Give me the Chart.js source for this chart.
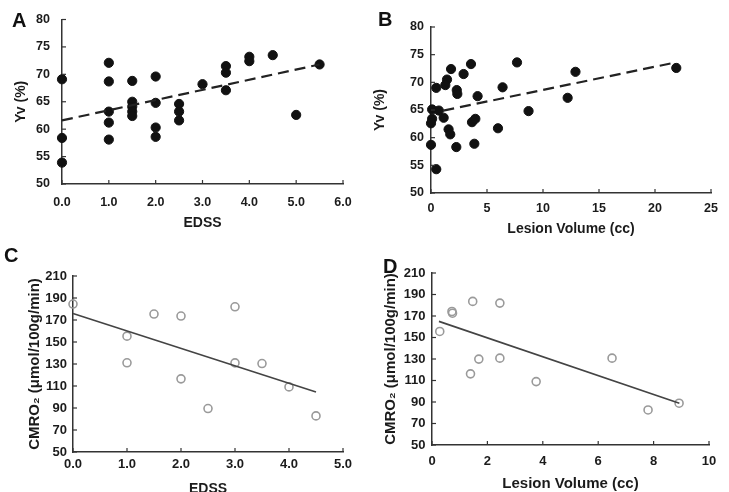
<!DOCTYPE html>
<html>
<head>
<meta charset="utf-8">
<script src="https://cdn.jsdelivr.net/npm/chart.js@4.4.1/dist/chart.umd.min.js"></script>
<style>
  html, body { margin: 0; padding: 0; background: #fff; }
  #wrap { position: relative; width: 729px; height: 492px; overflow: hidden; }
  #wrap canvas { position: absolute; }
  .tag { position: absolute; font: bold 20px "Liberation Sans", Arial, sans-serif; line-height: 1; color: #111; }
</style>
</head>
<body>
<div id="wrap">
  <canvas id="chartA" width="364" height="246" style="left:0;top:0"></canvas>
  <canvas id="chartB" width="365" height="246" style="left:364px;top:0"></canvas>
  <canvas id="chartC" width="364" height="256" style="left:0;top:246px"></canvas>
  <canvas id="chartD" width="365" height="256" style="left:364px;top:246px"></canvas>
  <div class="tag" style="left:12px;top:10px">A</div>
  <div class="tag" style="left:378px;top:9px">B</div>
  <div class="tag" style="left:4px;top:245px">C</div>
  <div class="tag" style="left:383px;top:256px">D</div>
</div>
<script>
/* ==============================
   Data
============================== */
// A: Yv vs EDSS
const edssA = [0, 0, 0, 1, 1, 1, 1, 1, 1.5, 1.5, 1.5, 1.5, 1.5, 2, 2, 2, 2, 2.5, 2.5, 2.5, 3, 3.5, 3.5, 3.5, 4, 4, 4.5, 5, 5.5];
const yvA   = [69.1, 58.4, 53.9, 72.1, 68.7, 63.2, 61.2, 58.1, 68.8, 65.0, 64.1, 63.2, 62.4, 69.6, 64.8, 60.3, 58.6, 64.6, 63.2, 61.6, 68.2, 71.5, 70.3, 67.1, 73.2, 72.4, 73.5, 62.6, 71.8];
const fitA  = [{ x: 0, y: 61.6 }, { x: 5.5, y: 71.8 }];

// B: Yv vs lesion volume
const lesionB = [1.79, 3.57, 2.91, 7.68, 1.43, 1.28, 0.47, 2.3, 2.35, 4.16, 6.39, 8.71, 0.1, 0.7, 0.1, 0, 1.13, 1.57, 1.72, 3.66, 3.96, 5.98, 0, 2.26, 3.87, 0.47, 12.2, 12.9, 21.9];
const yvB     = [72.4, 73.3, 71.5, 73.6, 70.5, 69.5, 69.0, 68.6, 67.9, 67.5, 69.1, 64.8, 65.1, 64.9, 63.4, 62.6, 63.6, 61.5, 60.6, 62.8, 63.4, 61.7, 58.7, 58.3, 58.9, 54.3, 67.2, 71.9, 72.6];
const fitB    = [{ x: 1.1, y: 64.9 }, { x: 21.6, y: 73.5 }];

// C: CMRO2 vs EDSS
const edssC = [0, 1, 1, 1.5, 2, 2, 2.5, 3, 3, 3.5, 4, 4.5];
const cmroC = [184.5, 155.3, 131.1, 175.4, 173.6, 116.5, 89.5, 182, 131, 130.4, 109.2, 82.8];
const fitC  = [{ x: 0, y: 176 }, { x: 4.5, y: 104.6 }];

// D: CMRO2 vs lesion volume
const lesionD = [0.28, 0.72, 0.74, 1.47, 2.45, 1.69, 1.39, 2.45, 3.76, 6.5, 7.8, 8.92];
const cmroD   = [155.6, 174.2, 172.6, 183.6, 182, 129.9, 116.2, 130.8, 109, 130.8, 82.6, 88.9];
const fitD    = [{ x: 0.25, y: 165 }, { x: 8.93, y: 88.9 }];

/* ==============================
   Helpers
============================== */
const FONT = '"Liberation Sans", Arial, Helvetica, sans-serif';
const INK = '#1b1b1b';
const AXIS = '#333';

function pts(xs, ys) {
    return xs.map((x, i) => ({ x, y: ys[i] }));
}

// little tick marks pointing into the plot, like the original
const innerTicks = {
    id: 'innerTicks',
    afterDraw(chart) {
        const { ctx, chartArea } = chart;
        ctx.save();
        ctx.strokeStyle = AXIS;
        ctx.lineWidth = 1.2;
        ['x', 'y'].forEach(id => {
            const s = chart.scales[id];
            s.ticks.forEach(t => {
                const p = s.getPixelForValue(t.value);
                ctx.beginPath();
                if (id === 'x') { ctx.moveTo(p, chartArea.bottom); ctx.lineTo(p, chartArea.bottom - 4); }
                else { ctx.moveTo(chartArea.left, p); ctx.lineTo(chartArea.left + 4, p); }
                ctx.stroke();
            });
        });
        ctx.restore();
    }
};

function panel(id, o) {
    return new Chart(document.getElementById(id), {
        type: 'scatter',
        data: {
            datasets: [
                {
                    data: o.points,
                    pointRadius: o.filled ? 4.6 : 4,
                    pointBackgroundColor: o.filled ? '#111' : 'rgba(0,0,0,0)',
                    pointBorderColor: o.filled ? '#111' : '#9a9a9a',
                    pointBorderWidth: o.filled ? 1 : 1.6,
                    clip: false,
                    order: 1
                },
                {
                    type: 'line',
                    data: o.fit,
                    borderColor: o.filled ? '#222' : '#444',
                    borderWidth: o.filled ? 2.2 : 1.6,
                    borderDash: o.filled ? [11, 6] : [],
                    pointRadius: 0,
                    fill: false,
                    clip: false,
                    order: 0
                }
            ]
        },
        options: {
            responsive: false,
            animation: false,
            events: [],
            layout: { padding: { left: 0, top: o.top, right: o.right, bottom: 0 } },
            plugins: { legend: { display: false }, tooltip: { enabled: false } },
            scales: {
                x: {
                    type: 'linear', min: o.xMin, max: o.xMax,
                    ticks: {
                        stepSize: o.xStep, autoSkip: false, maxRotation: 0, padding: o.xPad,
                        color: INK, font: { family: FONT, size: o.tickSize, weight: 'bold' },
                        callback: v => o.xFixed ? v.toFixed(1) : String(v)
                    },
                    grid: { display: false, drawTicks: false },
                    border: { color: AXIS, width: 1.5 },
                    title: {
                        display: true, text: o.xTitle, color: INK,
                        font: { family: FONT, size: o.titleSize, weight: 'bold' },
                        padding: { top: 0, bottom: o.xTitlePad }
                    },
                    afterFit: s => { s.height = o.xh; }
                },
                y: {
                    type: 'linear', min: o.yMin, max: o.yMax,
                    ticks: {
                        stepSize: o.yStep, autoSkip: false, padding: o.yPad,
                        color: INK, font: { family: FONT, size: o.tickSize, weight: 'bold' }
                    },
                    grid: { display: false, drawTicks: false },
                    border: { color: AXIS, width: 1.5 },
                    title: {
                        display: true, text: o.yTitle, color: INK,
                        font: { family: FONT, size: o.yTitleSize || o.titleSize, weight: 'bold' },
                        padding: { top: o.yTitlePad, bottom: 0 }
                    },
                    afterFit: s => { s.width = o.yw; }
                }
            }
        },
        plugins: [innerTicks]
    });
}

/* ==============================
   Build the four panels
============================== */
panel('chartA', {
    points: pts(edssA, yvA), fit: fitA, filled: true,
    xMin: 0, xMax: 6, xStep: 1, xFixed: true, yMin: 50, yMax: 80, yStep: 5,
    xTitle: 'EDSS', yTitle: 'Yv (%)',
    top: 18, right: 21, yw: 62, xh: 62,
    tickSize: 12.5, titleSize: 14, xPad: 11, yPad: 12, xTitlePad: 14, yTitlePad: 13
});

panel('chartB', {
    points: pts(lesionB, yvB), fit: fitB, filled: true,
    xMin: 0, xMax: 25, xStep: 5, yMin: 50, yMax: 80, yStep: 5,
    xTitle: 'Lesion Volume (cc)', yTitle: 'Yv (%)',
    top: 27, right: 18, yw: 67, xh: 53,
    tickSize: 12.5, titleSize: 14, xPad: 8, yPad: 7, xTitlePad: 8, yTitlePad: 8
});

panel('chartC', {
    points: pts(edssC, cmroC), fit: fitC, filled: false,
    xMin: 0, xMax: 5, xStep: 1, xFixed: true, yMin: 50, yMax: 210, yStep: 20,
    xTitle: 'EDSS', yTitle: 'CMRO₂ (μmol/100g/min)',
    top: 30, right: 21, yw: 73, xh: 50,
    tickSize: 13, titleSize: 14, yTitleSize: 15, xPad: 5, yPad: 6, xTitlePad: 4, yTitlePad: 26
});

panel('chartD', {
    points: pts(lesionD, cmroD), fit: fitD, filled: false,
    xMin: 0, xMax: 10, xStep: 2, yMin: 50, yMax: 210, yStep: 20,
    xTitle: 'Lesion Volume (cc)', yTitle: 'CMRO₂ (μmol/100g/min)',
    top: 27, right: 20, yw: 68, xh: 57,
    tickSize: 13, titleSize: 15, yTitleSize: 15, xPad: 9, yPad: 6.5, xTitlePad: 9, yTitlePad: 18
});
</script>
</body>
</html>
